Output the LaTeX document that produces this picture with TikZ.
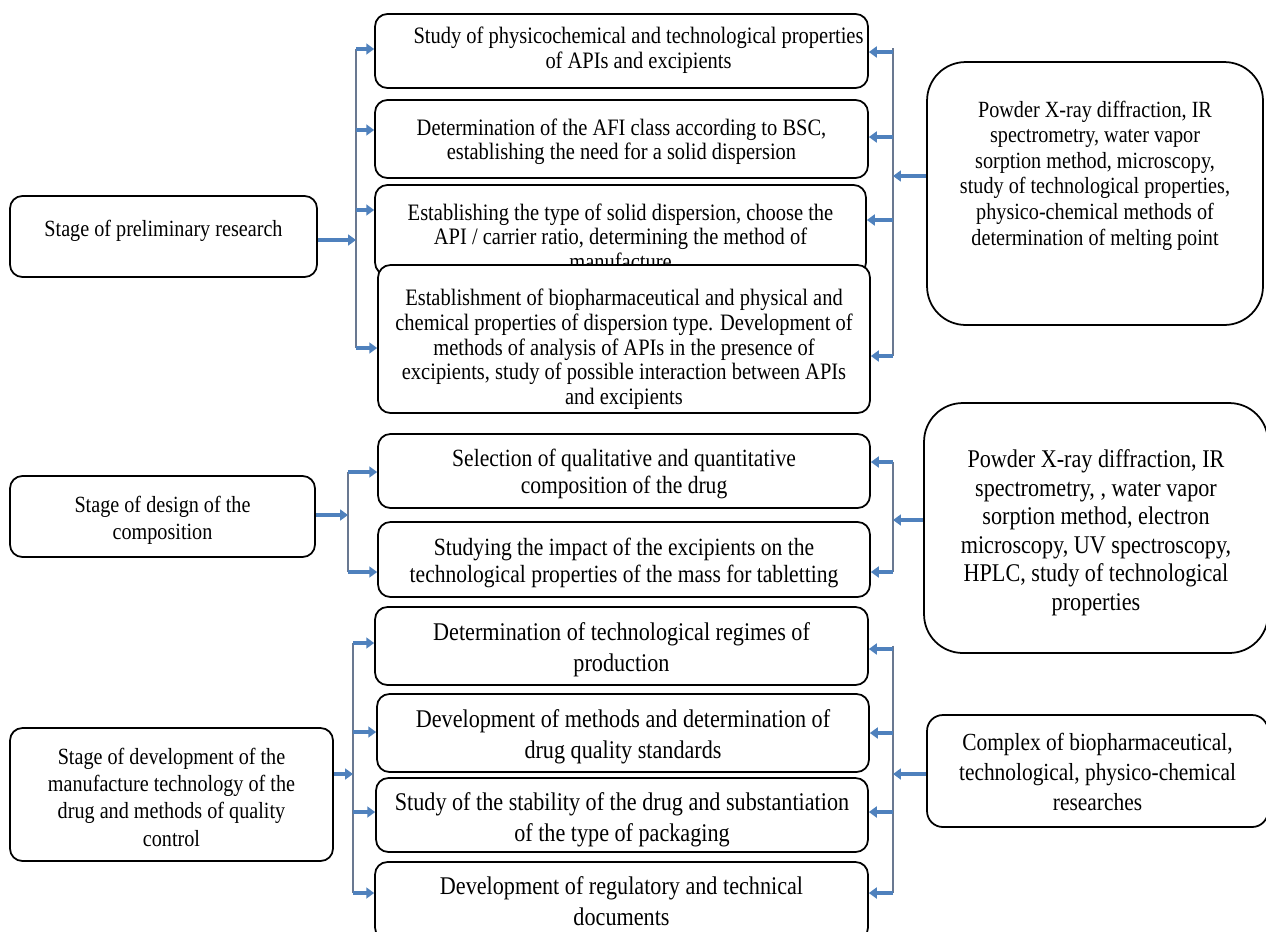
\documentclass[tikz,border=0pt]{standalone}
\usepackage{fontspec}
\setmainfont{Liberation Serif}[FakeStretch=0.87]
\usetikzlibrary{arrows.meta}

\definecolor{arrowblue}{RGB}{79,129,189}
\definecolor{trunkgrey}{RGB}{105,120,145}

\tikzset{
  stepbox/.style={draw, line width=1pt, rounded corners=7pt, fill=white, inner sep=0pt},
  sidebox/.style={stepbox, rounded corners=22pt},
  feed/.style={draw=arrowblue, line width=2.3pt, -{Triangle[length=4.5pt,width=6.2pt]}},
  trunk/.style={draw=trunkgrey, line width=0.8pt},
  stagetxt/.style={align=center, inner sep=0pt, font=\fontsize{13.2}{15.6}\selectfont},
  toptxt/.style={align=center, inner sep=0pt, font=\fontsize{13.4}{14.2}\selectfont},
  midtxt/.style={align=center, inner sep=0pt, font=\fontsize{14.1}{15.4}\selectfont},
  lowtxt/.style={align=center, inner sep=0pt, font=\fontsize{14.5}{17.6}\selectfont},
}

\begin{document}
\begin{tikzpicture}[x=0.02cm, y=-0.02cm]
\clip (0,0) rectangle (1266,931);

% The stages
\node[stepbox, minimum width=6.14cm, minimum height=1.62cm] (s1) at (163.5,236.5) {};
\node[stagetxt, below=13.8pt] (s1t) at (s1.north) {Stage of preliminary research};
\node[stepbox, minimum width=6.10cm, minimum height=1.62cm] (s2) at (162.5,516.5) {};
\node[stagetxt, below=11.5pt] (s2t) at (s2.north) {Stage of design of the\\ composition};
\node[stepbox, minimum width=6.46cm, minimum height=2.66cm] (s3) at (171.5,794.5) {};
\node[stagetxt, below=11.5pt] (s3t) at (s3.north) {Stage of development of the\\ manufacture technology of the\\ drug and methods of quality\\ control};

% The first group of tasks
\node[stepbox, minimum width=9.86cm, minimum height=1.48cm] (m1) at (621.5,51) {};
\node[toptxt, below=7.4pt] (m1t) at ([xshift=0.34cm]m1.north) {Study of physicochemical and technological properties\\ of APIs and excipients};
\node[stepbox, minimum width=9.86cm, minimum height=1.56cm] (m2) at (621.5,139) {};
\node[toptxt, below=10.8pt] (m2t) at (m2.north) {Determination of the AFI class according to BSC,\\ establishing the need for a solid dispersion};
\node[stepbox, minimum width=9.82cm, minimum height=1.80cm] (m3) at (620.5,230) {};
\node[toptxt, below=10.8pt] (m3t) at (m3.north) {Establishing the type of solid dispersion, choose the\\ API / carrier ratio, determining the method of\\ manufacture};
\node[stepbox, minimum width=9.84cm, minimum height=2.96cm] (m4) at (624,339) {};
\node[toptxt, below=13.7pt] (m4t) at (m4.north) {Establishment of biopharmaceutical and physical and\\ chemical properties of dispersion type. Development of\\ methods of analysis of APIs in the presence of\\ excipients, study of possible interaction between APIs\\ and excipients};

% The second group of tasks
\node[stepbox, minimum width=9.84cm, minimum height=1.48cm] (m5) at (624,471) {};
\node[midtxt, below=8.9pt] (m5t) at (m5.north) {Selection of qualitative and quantitative\\ composition of the drug};
\node[stepbox, minimum width=9.84cm, minimum height=1.50cm] (m6) at (624,559.5) {};
\node[midtxt, below=9.4pt] (m6t) at (m6.north) {Studying the impact of the excipients on the\\ technological properties of the mass for tabletting};

% The third group of tasks
\node[stepbox, minimum width=9.86cm, minimum height=1.56cm] (m7) at (621.5,646) {};
\node[lowtxt, below=9.3pt] (m7t) at (m7.north) {Determination of technological regimes of\\ production};
\node[stepbox, minimum width=9.84cm, minimum height=1.56cm] (m8) at (623,733) {};
\node[lowtxt, below=9.3pt] (m8t) at (m8.north) {Development of methods and determination of\\ drug quality standards};
\node[stepbox, minimum width=9.84cm, minimum height=1.48cm] (m9) at (622,815) {};
\node[lowtxt, below=8.7pt] (m9t) at (m9.north) {Study of the stability of the drug and substantiation\\ of the type of packaging};
\node[stepbox, minimum width=9.86cm, minimum height=1.56cm] (m10) at (621.5,901) {};
\node[lowtxt, below=8.7pt] (m10t) at (m10.north) {Development of regulatory and technical\\ documents};

% The methods
\node[sidebox, minimum width=6.72cm, minimum height=5.26cm] (r1) at (1095,193.5) {};
\node[align=center, inner sep=0pt, font=\fontsize{13.2}{14.6}\selectfont, below=22.3pt] (r1t) at (r1.north) {Powder X-ray diffraction, IR\\ spectrometry, water vapor\\ sorption method, microscopy,\\ study of technological properties,\\ physico-chemical methods of\\ determination of melting point};
\node[sidebox, minimum width=6.88cm, minimum height=5.00cm] (r2) at (1096,528) {};
\node[align=center, inner sep=0pt, font=\fontsize{14.5}{16.2}\selectfont, below=26.9pt] (r2t) at (r2.north) {Powder X-ray diffraction, IR\\ spectrometry, , water vapor\\ sorption method, electron\\ microscopy, UV spectroscopy,\\ HPLC, study of technological\\ properties};
\node[stepbox, rounded corners=9pt, minimum width=6.82cm, minimum height=2.24cm] (r3) at (1097.5,771) {};
\node[align=center, inner sep=0pt, font=\fontsize{14}{17}\selectfont, below=10.6pt] (r3t) at (r3.north) {Complex of biopharmaceutical,\\ technological, physico-chemical\\ researches};

% Left trunks
\coordinate (la1) at (356,49);  \coordinate (la2) at (356,130);
\coordinate (la3) at (356,210); \coordinate (la4) at (356,348);
\coordinate (lam) at (356,240);
\coordinate (lb1) at (348,472); \coordinate (lb2) at (348,572);
\coordinate (lbm) at (348,515);
\coordinate (lc1) at (353,643); \coordinate (lc2) at (353,732);
\coordinate (lc3) at (353,812); \coordinate (lc4) at (353,893);
\coordinate (lcm) at (353,774);
\draw[trunk] (la1) -- (la4);
\draw[trunk] (lb1) -- (lb2);
\draw[trunk] (lc1) -- (lc4);
\draw[feed] (s1.east |- lam) -- (lam);
\draw[feed] (s2.east |- lbm) -- (lbm);
\draw[feed] (s3.east |- lcm) -- (lcm);
\foreach \c/\b in {la1/m1, la2/m2, la3/m3, la4/m4, lb1/m5, lb2/m6, lc1/m7, lc2/m8, lc3/m9, lc4/m10}
  \draw[feed] (\c) -- (\b.west |- \c);

% Right trunks
\coordinate (ra1) at (893,52);  \coordinate (ra2) at (893,137);
\coordinate (ra3) at (893,220); \coordinate (ra4) at (893,356);
\coordinate (ram) at (893,176);
\coordinate (rb1) at (893,462); \coordinate (rb2) at (893,572);
\coordinate (rbm) at (893,520);
\coordinate (rc1) at (893,649); \coordinate (rc2) at (893,733);
\coordinate (rc3) at (893,812); \coordinate (rc4) at (893,893);
\coordinate (rcm) at (893,774);
\draw[trunk] ([yshift=2pt]ra1) -- (ra4);
\draw[trunk] (rb1) -- (rb2);
\draw[trunk] ([yshift=2pt]rc1) -- (rc4);
\draw[feed] (r1.west |- ram) -- (ram);
\draw[feed] (r2.west |- rbm) -- (rbm);
\draw[feed] (r3.west |- rcm) -- (rcm);
\foreach \c/\b in {ra1/m1, ra2/m2, ra3/m3, ra4/m4, rb1/m5, rb2/m6, rc1/m7, rc2/m8, rc3/m9, rc4/m10}
  \draw[feed] (\c) -- (\b.east |- \c);

\end{tikzpicture}
\end{document}
